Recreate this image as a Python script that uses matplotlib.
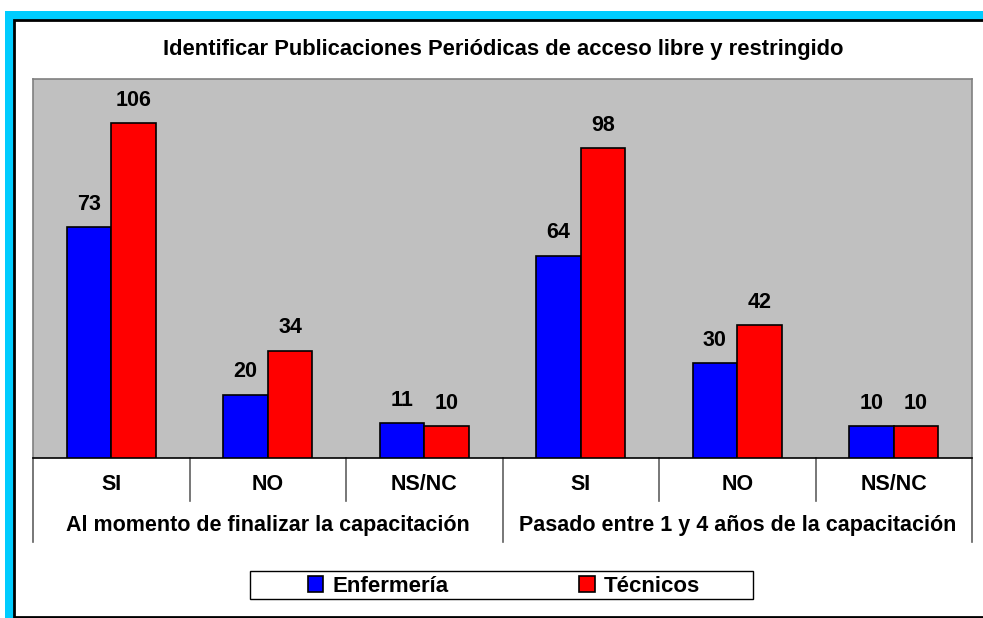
import matplotlib
matplotlib.use("Agg")
import matplotlib.pyplot as plt
from matplotlib.patches import Rectangle
from matplotlib.lines import Line2D
import numpy as np

plt.rcParams['font.family'] = ['Liberation Sans', 'DejaVu Sans']

title = "Identificar Publicaciones Periódicas de acceso libre y restringido"
categories = ["SI", "NO", "NS/NC", "SI", "NO", "NS/NC"]
groups = ["Al momento de finalizar la capacitación",
          "Pasado entre 1 y 4 años de la capacitación"]
series_names = ["Enfermería", "Técnicos"]
enfermeria = [73, 20, 11, 64, 30, 10]
tecnicos = [106, 34, 10, 98, 42, 10]

W, H = 983, 618
fig = plt.figure(figsize=(W / 100, H / 100), dpi=100)
fig.patch.set_facecolor("white")

def fx(px):
    return px / W

def fy(py):
    return 1 - py / H

# cyan frame (top and left) and black inner frame
fig.patches.append(Rectangle((fx(5), fy(618)), fx(983 - 5), fy(11) - fy(618),
                             transform=fig.transFigure, facecolor="#00CCFF",
                             edgecolor="none", zorder=-3))
fig.patches.append(Rectangle((fx(14), fy(616.5)), fx(990 - 14), fy(20) - fy(616.5),
                             transform=fig.transFigure, facecolor="white",
                             edgecolor="black", linewidth=2, zorder=-2))
# legend frame
fig.patches.append(Rectangle((fx(250), fy(599)), fx(753 - 250), fy(571) - fy(599),
                             transform=fig.transFigure, facecolor="white",
                             edgecolor="black", linewidth=1.0, zorder=-1))

x0, x1, y0, y1 = 33, 972, 79, 458
ax = fig.add_axes([fx(x0), fy(y1), fx(x1 - x0), fy(y0) - fy(y1)])
ax.set_facecolor("#C0C0C0")
for s in ax.spines.values():
    s.set_color("#808080")
    s.set_linewidth(1.2)
ax.spines['bottom'].set_color("black")

n = len(categories)
x = np.arange(n)
bw = 1 / 3.5
b1 = ax.bar(x - bw / 2, enfermeria, bw, color="#0000FF", edgecolor="black",
            linewidth=1.2, label=series_names[0], zorder=3)
b2 = ax.bar(x + bw / 2, tecnicos, bw, color="#FF0000", edgecolor="black",
            linewidth=1.2, label=series_names[1], zorder=3)
for bars, vals in ((b1, enfermeria), (b2, tecnicos)):
    for r, v in zip(bars, vals):
        ax.annotate(str(v), (r.get_x() + r.get_width() / 2, v),
                    xytext=(0, 9), textcoords="offset points",
                    ha="center", va="bottom", fontsize=15.5, fontweight="bold")

ax.set_xlim(-0.5, n - 0.5)
ax.set_ylim(0, 120)
ax.set_xticks([])
ax.set_yticks([])

# two-level category axis
trans = ax.get_xaxis_transform()
hpx = y1 - y0
def ay(py):
    return (y1 - py) / hpx

for i in range(n + 1):
    xb = i - 0.5
    outer = (i % 3 == 0)
    yend = 542 if outer else 501
    ax.add_line(Line2D([xb, xb], [0, ay(yend)], transform=trans, color="#606060",
                       linewidth=1.2, clip_on=False))
for i, c in enumerate(categories):
    ax.text(i, ay(485), c, transform=trans, ha="center", va="center",
            fontsize=15.5, fontweight="bold")
for g, name in enumerate(groups):
    ax.text(g * 3 + 1, ay(525), name, transform=trans, ha="center", va="center",
            fontsize=15.5, fontweight="bold")

fig.text(fx(503), fy(50), title, ha="center", va="center",
         fontsize=15.8, fontweight="bold")

leg = fig.legend(handles=[b1, b2], labels=series_names, ncol=2,
                 loc="center", bbox_to_anchor=(fx(504), fy(586)),
                 frameon=False,
                 handlelength=0.7, handleheight=0.7, handletextpad=0.4,
                 columnspacing=5.9, borderpad=0.2,
                 prop={"size": 16, "weight": "bold"})

fig.savefig("out.png", dpi=100, facecolor="white")
